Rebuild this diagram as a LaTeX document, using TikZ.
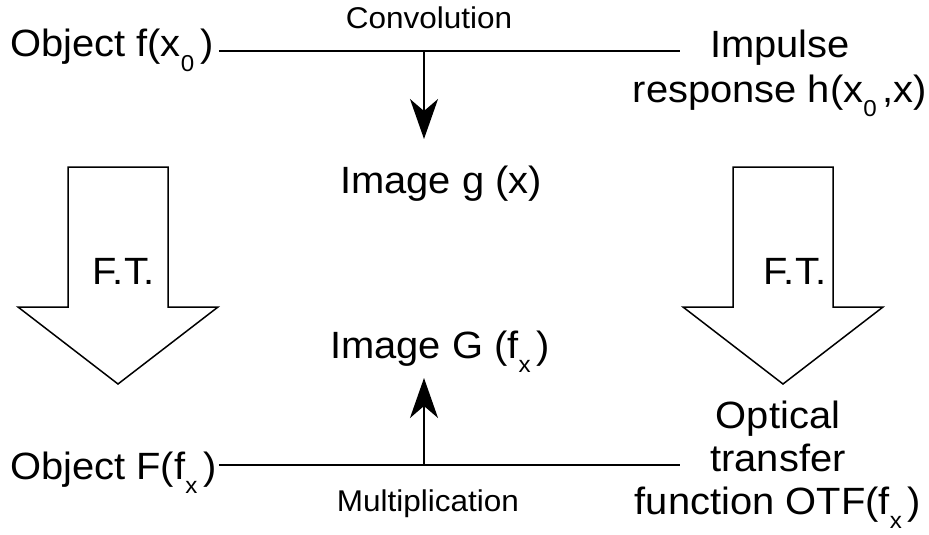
\documentclass[tikz,border=0pt]{standalone}
\usepackage{fontspec}
\setmainfont{Liberation Sans}[FakeStretch=1.05]
\usetikzlibrary{arrows.meta}
% lowered index used in the labels, e.g. x_0 or f_x, followed by a gap
\newcommand{\lowidx}[1]{\raisebox{-14pt}{\fontsize{23}{23}\selectfont #1}\hspace{6pt}}
\begin{document}
\begin{tikzpicture}[x=1pt,y=-1pt,
  big/.style={font=\fontsize{38}{45}\selectfont, inner sep=0pt},
  small/.style={font=\fontsize{30}{32}\selectfont, inner sep=0pt},
  wire/.style={line width=1.5pt},
  feed/.style={line width=1.5pt, -{Stealth[length=40pt,width=28pt,inset=12pt]}},
  ftarrow/.style={draw, line width=1.5pt, fill=white, line join=miter}]
\useasboundingbox (0,0) rectangle (929,535);

% labels
\node[big, anchor=base west] (objf) at (10,57) {Object f(x\lowidx{0})};
\node[big, align=center] (imp) at (780,73) {Impulse\\response h(x\lowidx{0},x)};
\node[big, anchor=base] (img) at (441,193) {Image g (x)};
\node[big, anchor=base] (imgG) at (440,358) {Image G (f\lowidx{x})};
\node[big, anchor=base west] (objF) at (10,479) {Object F(f\lowidx{x})};
\node[big, align=center] (otf) at (778,465) {Optical\\[-2pt]transfer\\[-2pt]function OTF(f\lowidx{x})};
\node[small, anchor=base] (conv) at (429,29) {Convolution};
\node[small, anchor=base] (mult) at (428,511) {Multiplication};

% horizontal operation lines and their feeds
\coordinate (topend) at (680,51);
\coordinate (topmid) at (424,51);
\coordinate (botend) at (680,465);
\coordinate (botmid) at (424,465);
\draw[wire] ([xshift=5pt]objf.east |- topend) -- (topend);
\draw[wire] ([xshift=2pt]objF.east |- botend) -- (botend);
\draw[feed] (topmid) -- (424,139) coordinate (gtip);
\draw[feed] (botmid) -- (424,378) coordinate (Gtip);

% Fourier transform block arrows
\draw[ftarrow] (68,167) -- (168,167) -- (168,307) -- (218,307) -- (118,384)
  -- (18,307) -- (68,307) -- cycle;
\node[big, anchor=base] (ftl) at (124,284) {F.T.};
\draw[ftarrow] (733,167) -- (833,167) -- (833,307) -- (883,307) -- (783,384)
  -- (683,307) -- (733,307) -- cycle;
\node[big, anchor=base] (ftr) at (795,284) {F.T.};
\end{tikzpicture}
\end{document}
